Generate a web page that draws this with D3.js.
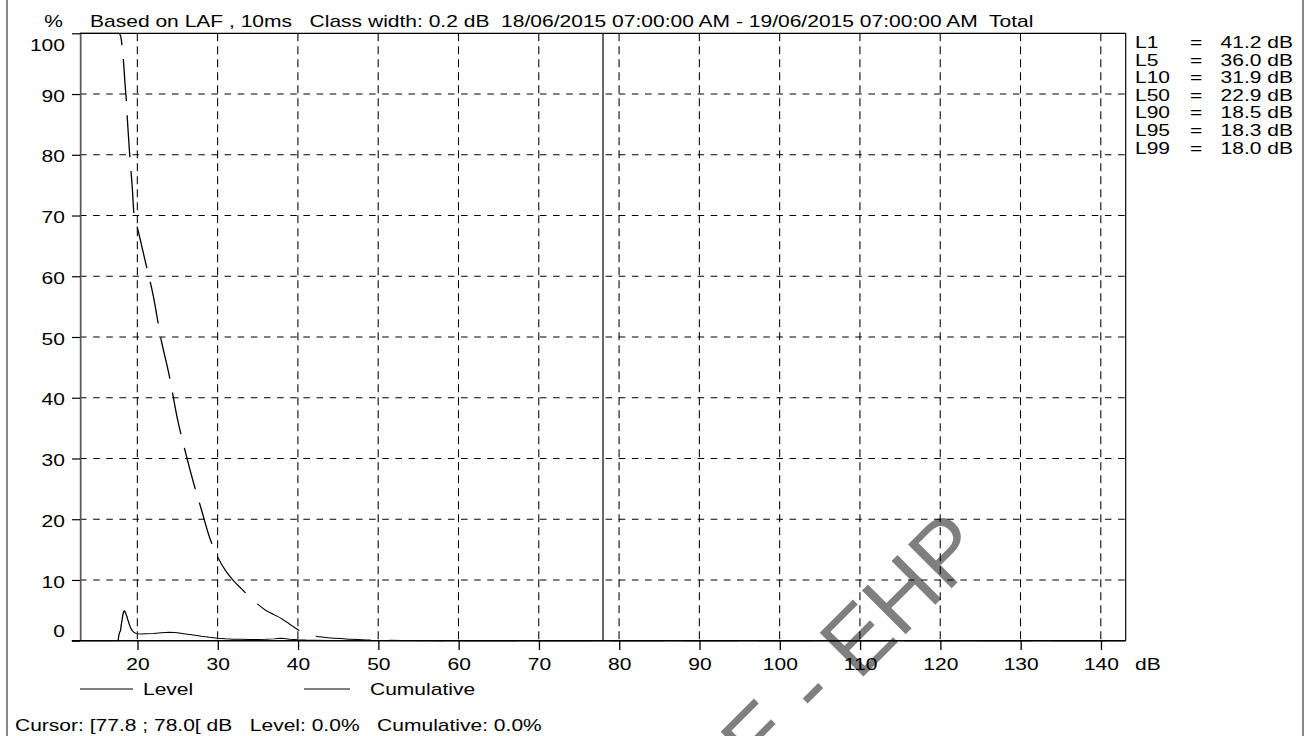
<!DOCTYPE html>
<html><head><meta charset="utf-8">
<script src="https://cdn.jsdelivr.net/npm/d3@7"></script>
<style>html,body{margin:0;padding:0;background:#fff;overflow:hidden}</style>
</head><body>
<script>
// ---- data ----
const levelDb  = [12.86, 17.6, 17.7, 17.8, 17.9, 18.0, 18.1, 18.2, 18.3, 18.4, 18.5, 18.6, 18.7, 18.8, 19.0, 19.2, 19.4, 19.6, 19.8, 20.0, 20.5, 21, 22, 23, 24, 25, 26, 27, 28, 29, 30, 31, 32, 33, 34, 35, 36, 37, 37.5, 38, 38.5, 39, 40, 41, 42, 44, 47, 50, 55, 143.1];
const levelPct = [0, 0, 0.9, 1.4, 1.6, 2.6, 3.4, 4.3, 4.8, 4.9, 4.7, 4.3, 4.0, 3.5, 2.7, 2.0, 1.6, 1.35, 1.2, 1.15, 1.1, 1.15, 1.2, 1.3, 1.38, 1.3, 1.12, 0.92, 0.72, 0.55, 0.42, 0.32, 0.25, 0.22, 0.2, 0.2, 0.22, 0.3, 0.38, 0.4, 0.32, 0.25, 0.15, 0.1, 0.08, 0.05, 0.03, 0.02, 0, 0];
const cumDb  = [12.86, 17.7, 17.9, 18.0, 18.15, 18.3, 18.45, 18.6, 18.8, 19.05, 19.35, 19.6, 20, 21, 22, 22.9, 24, 25, 26, 27, 28, 29, 30, 31, 31.9, 33, 34, 35, 36, 37, 38, 39, 40, 41.2, 42, 43, 44, 46, 48, 50, 53, 56, 60, 143.1];
const cumPct = [100, 100, 99.6, 99, 97, 95, 92, 89.5, 85, 80, 75, 70, 68, 62.4, 56.7, 50, 43.5, 36.5, 31, 26, 21.5, 17, 13.8, 11.5, 10, 8.5, 7.2, 6, 5, 4.3, 3.6, 2.7, 1.8, 1.0, 0.8, 0.6, 0.45, 0.3, 0.15, 0.08, 0.04, 0.02, 0, 0];
const xTicks = [20, 30, 40, 50, 60, 70, 80, 90, 100, 110, 120, 130, 140];
const yTicks = [0, 10, 20, 30, 40, 50, 60, 70, 80, 90, 100];
const statLabels = ["L1", "L5", "L10", "L50", "L90", "L95", "L99"];
const statValues = ["41.2 dB", "36.0 dB", "31.9 dB", "22.9 dB", "18.5 dB", "18.3 dB", "18.0 dB"];
const cursorDb = 78.0;
const headerText = "Based on LAF , 10ms   Class width: 0.2 dB  18/06/2015 07:00:00 AM - 19/06/2015 07:00:00 AM  Total";
const cursorText = "Cursor: [77.8 ; 78.0[ dB   Level: 0.0%   Cumulative: 0.0%";
const legendNames = ["Level", "Cumulative"];
const watermark = "SAMPLE - EHP";

// ---- layout ----
const W = 1314, H = 736, K = 1.314;      // chart drawn at 1000 wide, stretched horizontally
const sx = v => v / K;                  // screen x -> stretched view x
const FONT = "'Liberation Sans', Arial, Helvetica, sans-serif";

const outer = d3.select('body').append('svg').attr('width', W).attr('height', H);
const g = outer.append('svg').attr('x', 0).attr('y', 0).attr('width', W).attr('height', H)
  .attr('viewBox', `0 0 ${W / K} ${H}`).attr('preserveAspectRatio', 'none')
  .style('font-family', FONT).style('font-size', '16px');

const x = d3.scaleLinear().domain([12.86, 143.1]).range([sx(80), sx(1125.7)]);
const y = d3.scaleLinear().domain([0, 100]).range([640.7, 33.3]);
const [x0, x1] = x.range();
const [yb, yt] = y.range();

// grid
g.append('g').selectAll('line').data(xTicks).join('line')
  .attr('x1', d => x(d)).attr('x2', d => x(d)).attr('y1', yt).attr('y2', yb)
  .attr('stroke', '#000').attr('stroke-width', 0.8).attr('stroke-dasharray', '8,5');
g.append('g').selectAll('line').data(yTicks.filter(d => d > 0 && d < 100)).join('line')
  .attr('x1', x0).attr('x2', x1).attr('y1', d => y(d)).attr('y2', d => y(d))
  .attr('stroke', '#000').attr('stroke-width', 1).attr('stroke-dasharray', '5,5');

// frame: top, right, cursor
g.append('line').attr('x1', x0).attr('x2', x1).attr('y1', yt).attr('y2', yt).attr('stroke', '#000').attr('stroke-width', 1.2);
g.append('line').attr('x1', x1).attr('x2', x1).attr('y1', yt).attr('y2', yb).attr('stroke', '#000').attr('stroke-width', 0.9);
g.append('line').attr('x1', x(cursorDb)).attr('x2', x(cursorDb)).attr('y1', yt).attr('y2', yb).attr('stroke', '#000').attr('stroke-width', 0.9);

// y axis
const yAxis = d3.axisLeft(y).tickValues(yTicks).tickSize(sx(8)).tickPadding(sx(7)).tickSizeOuter(0);
const ya = g.append('g').attr('transform', `translate(${x0},0)`).call(yAxis);
ya.select('.domain').attr('stroke', '#555').attr('stroke-width', 1.3);
ya.selectAll('.tick line').attr('stroke', '#000').attr('stroke-width', 1.2);
ya.selectAll('.tick text').attr('fill', '#000').style('font-family', FONT).style('font-size', '16px')
  .attr('dy', d => d === 100 ? '1.1em' : d === 0 ? '-0.25em' : '0.45em');

// x axis
const xAxis = d3.axisBottom(x).tickValues(xTicks).tickSize(9.3).tickPadding(8.6).tickSizeOuter(0);
const xa = g.append('g').attr('transform', `translate(0,${yb})`).call(xAxis);
xa.select('.domain').remove();
xa.selectAll('.tick line').attr('stroke', '#000').attr('stroke-width', 1);
xa.selectAll('.tick text').attr('fill', '#000').style('font-family', FONT).style('font-size', '16px');
g.append('line').attr('x1', sx(71.7)).attr('x2', x1).attr('y1', yb).attr('y2', yb).attr('stroke', '#000').attr('stroke-width', 1.6);
g.append('text').attr('x', sx(1135)).attr('y', 670).text('dB');

// curves
g.append('clipPath').attr('id', 'pc').append('rect')
  .attr('x', x0).attr('y', yt - 1).attr('width', x1 - x0).attr('height', yb - yt + 2);
const lvl = levelDb.map((d, i) => [d, levelPct[i]]);
const cum = cumDb.map((d, i) => [d, cumPct[i]]);
const line = d3.line().x(d => x(d[0])).y(d => y(d[1]));
const curves = g.append('g').attr('clip-path', 'url(#pc)');
curves.append('path').datum(lvl).attr('d', line).attr('fill', 'none').attr('stroke', '#000').attr('stroke-width', 1);
curves.append('path').datum(cum).attr('d', line.curve(d3.curveMonotoneX)).attr('fill', 'none').attr('stroke', '#000')
  .attr('stroke-width', 1).attr('stroke-dasharray', '42,14');

// header
g.append('text').attr('x', sx(63)).attr('y', 26.7).attr('text-anchor', 'end').text('%');
g.append('text').attr('x', sx(90)).attr('y', 26.7).style('white-space', 'pre').text(headerText);

// stats
const st = g.append('g');
st.selectAll('.sl').data(statLabels).join('text').attr('class', 'sl')
  .attr('x', sx(1135)).attr('y', (d, i) => 48 + i * 17.6).text(d => d);
st.selectAll('.se').data(statLabels).join('text').attr('class', 'se')
  .attr('x', sx(1190)).attr('y', (d, i) => 48 + i * 17.6).text('=');
st.selectAll('.sv').data(statValues).join('text').attr('class', 'sv')
  .attr('x', sx(1293)).attr('text-anchor', 'end').attr('y', (d, i) => 48 + i * 17.6).text(d => d);

// legend
const legX = [[80, 133, 143], [304, 350, 370]];
legendNames.forEach((n, i) => {
  g.append('line').attr('x1', sx(legX[i][0])).attr('x2', sx(legX[i][1])).attr('y1', 689).attr('y2', 689)
    .attr('stroke', '#000').attr('stroke-width', 1);
  g.append('text').attr('x', sx(legX[i][2])).attr('y', 695).text(n);
});
g.append('text').attr('x', sx(15)).attr('y', 731).style('white-space', 'pre').text(cursorText);

// outer frame (side borders)
outer.append('line').attr('x1', 7).attr('x2', 7).attr('y1', 0).attr('y2', H).attr('stroke', '#888').attr('stroke-width', 2);
outer.append('line').attr('x1', 1303).attr('x2', 1303).attr('y1', 0).attr('y2', H).attr('stroke', '#888').attr('stroke-width', 2);

// watermark
outer.append('text').attr('transform', 'translate(989,551) rotate(-45)')
  .attr('text-anchor', 'end').style('font-family', FONT).style('font-size', '90px')
  .attr('fill', '#000').attr('fill-opacity', 0.5).text(watermark);
</script>
</body></html>
